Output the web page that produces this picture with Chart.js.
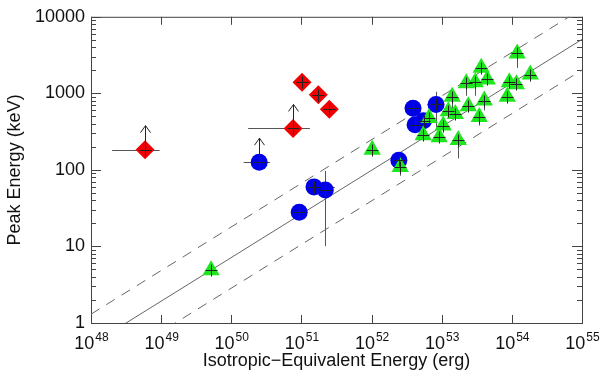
<!DOCTYPE html>
<html>
<head>
<meta charset="utf-8">
<script src="https://cdn.jsdelivr.net/npm/chart.js@4.4.1/dist/chart.umd.min.js"></script>
<style>
  html, body { margin: 0; padding: 0; background: #fff; }
  #wrap { width: 600px; height: 376px; }
</style>
</head>
<body>
<div id="wrap"><canvas id="epChart"></canvas></div>
<script>
// Axis ticks
const xTicks = [1e48, 1e49, 1e50, 1e51, 1e52, 1e53, 1e54, 1e55];
const yTicks = [1, 10, 100, 1000, 10000];
const yMinor = [2, 3, 4, 5, 6, 7, 8, 9];

// Red diamonds
const redE  = [5.9e48, 7.6e50, 1.02e51, 1.74e51, 2.5e51];
const redEp = [184, 348, 1400, 960, 620];

// Blue circles
const blueE  = [2.5e50, 1.51e51, 2.19e51, 9.3e50, 2.45e52, 3.9e52, 4.17e52, 5.5e52, 8.3e52];
const blueEp = [126, 60, 54.5, 28, 134, 638, 390, 439, 716];

// Green triangles
const greenE  = [5.15e49, 1.02e52, 2.56e52, 5.45e52, 6.6e52, 9.2e52, 1.05e53, 1.24e53,
                 1.56e53, 1.41e53, 1.72e53, 2.39e53, 2.24e53, 3.0e53, 3.43e53, 4.04e53,
                 3.66e53, 4.46e53, 8.6e53, 9.2e53, 1.16e54, 1.19e54, 1.83e54];
const greenEp = [4.9, 184, 109, 284, 478, 268, 379, 585,
                 537, 904, 245, 676, 1355, 1396, 492, 805,
                 2153, 1520, 904, 1396, 1315, 3327, 1758];

// error bars: [series, index, low, high]
const xErrors = [
  ['red', 0, 2.0e48, 9.5e48],
  ['red', 1, 1.74e50, 1.32e51],
  ['blue', 0, 1.5e50, 3.55e50],
  ['blue', 1, 1.2e51, 3.0e51]
];
const yErrors = [
  ['blue', 2, 10.1, 97],
  ['blue', 8, 356, 1050],
  ['green', 2, 84, 152],
  ['green', 9, 520, 1100],
  ['green', 10, 141, 309],
  ['green', 12, 930, 1700],
  ['green', 13, 930, 1700],
  ['green', 14, 380, 600],
  ['green', 15, 600, 1050],
  ['green', 21, 2150, 4200]
];
// lower limits on Ep (arrow up)
const lowerLimits = [['red', 0], ['red', 1], ['blue', 0]];

// relation: log Ep = slope * (log E - logE0), dashed lines at +/- width
const relSlope = 0.57;
const relLogE0 = 48.5;
const relWidth = 0.4;

const series = {
  red: { e: redE, ep: redEp },
  blue: { e: blueE, ep: blueEp },
  green: { e: greenE, ep: greenEp }
};

function relLine(offset) {
  return [xTicks[0], xTicks[xTicks.length - 1]].map(e => ({
    x: e,
    y: Math.pow(10, relSlope * (Math.log10(e) - relLogE0) + offset)
  }));
}

function pts(s) {
  return series[s].e.map((e, i) => ({ x: e, y: series[s].ep[i] }));
}

const font = 'Liberation Sans, Arial, sans-serif';

const frame = {
  id: 'frame',
  beforeDatasetsDraw(chart) {
    const { ctx, chartArea: a, scales: { x, y } } = chart;
    ctx.save();
    ctx.strokeStyle = '#444';
    ctx.lineWidth = 1;
    ctx.strokeRect(a.left + 0.5, a.top + 0.5, a.right - a.left, a.bottom - a.top);
    ctx.beginPath();
    xTicks.forEach(v => {
      const p = Math.round(x.getPixelForValue(v)) + 0.5;
      ctx.moveTo(p, a.bottom); ctx.lineTo(p, a.bottom - 8);
      ctx.moveTo(p, a.top); ctx.lineTo(p, a.top + 8);
    });
    yTicks.forEach((v, k) => {
      const p = Math.round(y.getPixelForValue(v)) + 0.5;
      ctx.moveTo(a.left, p); ctx.lineTo(a.left + 10, p);
      ctx.moveTo(a.right, p); ctx.lineTo(a.right - 10, p);
      if (k < yTicks.length - 1) {
        yMinor.forEach(m => {
          const q = Math.round(y.getPixelForValue(v * m)) + 0.5;
          ctx.moveTo(a.left, q); ctx.lineTo(a.left + 5, q);
          ctx.moveTo(a.right, q); ctx.lineTo(a.right - 5, q);
        });
      }
    });
    ctx.stroke();

    // error bars
    ctx.strokeStyle = '#555';
    ctx.beginPath();
    xErrors.forEach(([s, i, lo, hi]) => {
      const py = Math.round(y.getPixelForValue(series[s].ep[i])) + 0.5;
      ctx.moveTo(x.getPixelForValue(lo), py);
      ctx.lineTo(x.getPixelForValue(hi), py);
    });
    yErrors.forEach(([s, i, lo, hi]) => {
      const pxl = Math.round(x.getPixelForValue(series[s].e[i])) + 0.5;
      ctx.moveTo(pxl, y.getPixelForValue(lo));
      ctx.lineTo(pxl, y.getPixelForValue(hi));
    });
    ctx.stroke();

    // x tick labels: 10 with raised exponent
    ctx.fillStyle = '#111';
    ctx.textBaseline = 'alphabetic';
    ctx.textAlign = 'left';
    xTicks.forEach(v => {
      const base = '10';
      const exp = String(Math.round(Math.log10(v)));
      ctx.font = '18px ' + font;
      const wb = ctx.measureText(base).width;
      ctx.font = '12px ' + font;
      const we = ctx.measureText(exp).width;
      const left = x.getPixelForValue(v) - (wb + we) / 2;
      ctx.font = '18px ' + font;
      ctx.fillText(base, left, a.bottom + 26);
      ctx.font = '12px ' + font;
      ctx.fillText(exp, left + wb + 1, a.bottom + 18);
    });
    ctx.restore();
  },
  afterDatasetsDraw(chart) {
    const { ctx, scales: { x, y } } = chart;
    ctx.save();
    ctx.strokeStyle = '#222';
    ctx.lineWidth = 1;
    ctx.beginPath();
    // crosses on every symbol
    Object.keys(series).forEach(s => {
      series[s].e.forEach((e, i) => {
        const px = Math.round(x.getPixelForValue(e)) + 0.5;
        const py = Math.round(y.getPixelForValue(series[s].ep[i])) + 0.5;
        ctx.moveTo(px - 6, py); ctx.lineTo(px + 6, py);
        ctx.moveTo(px, py - 6); ctx.lineTo(px, py + 6);
      });
    });
    // lower-limit arrows
    lowerLimits.forEach(([s, i]) => {
      const px = Math.round(x.getPixelForValue(series[s].e[i])) + 0.5;
      const py = y.getPixelForValue(series[s].ep[i]);
      ctx.moveTo(px, py - 6); ctx.lineTo(px, py - 24);
      ctx.moveTo(px - 5, py - 17); ctx.lineTo(px, py - 24); ctx.lineTo(px + 5, py - 17);
    });
    ctx.stroke();
    ctx.restore();
  }
};

new Chart(document.getElementById('epChart'), {
  type: 'scatter',
  data: {
    datasets: [
      { label: 'green', data: pts('green'), pointStyle: 'triangle', pointRadius: 10,
        backgroundColor: '#1ee61e', borderWidth: 0, order: 0 },
      { label: 'blue', data: pts('blue'), pointStyle: 'circle', pointRadius: 8.5,
        backgroundColor: '#0000e6', borderWidth: 0, order: 1 },
      { label: 'red', data: pts('red'), pointStyle: 'rectRot', pointRadius: 9.5,
        backgroundColor: '#f00000', borderWidth: 0, order: 2 },
      { type: 'line', data: relLine(0), borderColor: '#666', borderWidth: 1,
        pointRadius: 0, fill: false, order: 3 },
      { type: 'line', data: relLine(relWidth), borderColor: '#666', borderWidth: 1,
        borderDash: [10, 8], pointRadius: 0, fill: false, order: 3 },
      { type: 'line', data: relLine(-relWidth), borderColor: '#666', borderWidth: 1,
        borderDash: [10, 8], pointRadius: 0, fill: false, order: 3 }
    ]
  },
  options: {
    responsive: true,
    maintainAspectRatio: false,
    animation: false,
    layout: { padding: { top: 5, right: 18, left: 0, bottom: 0 } },
    plugins: {
      legend: { display: false },
      tooltip: { enabled: false }
    },
    scales: {
      x: {
        type: 'logarithmic',
        min: xTicks[0],
        max: xTicks[xTicks.length - 1],
        grid: { display: false, drawTicks: false },
        border: { display: false },
        afterBuildTicks: s => { s.ticks = xTicks.map(v => ({ value: v })); },
        afterFit: s => { s.height = 53; },
        ticks: { display: false },
        title: {
          display: true,
          text: 'Isotropic−Equivalent Energy (erg)',
          color: '#111',
          font: { family: font, size: 18 },
          padding: { top: 0, bottom: 4 }
        }
      },
      y: {
        type: 'logarithmic',
        min: yTicks[0],
        max: yTicks[yTicks.length - 1],
        grid: { display: false, drawTicks: false },
        border: { display: false },
        afterBuildTicks: s => { s.ticks = yTicks.map(v => ({ value: v })); },
        afterFit: s => { s.width = 91; },
        ticks: {
          autoSkip: false,
          padding: 6,
          color: '#111',
          font: { family: font, size: 18 },
          callback: v => String(Math.round(v))
        },
        title: {
          display: true,
          text: 'Peak Energy (keV)',
          color: '#111',
          font: { family: font, size: 18 },
          padding: { top: 4, bottom: 0 }
        }
      }
    }
  },
  plugins: [frame]
});
</script>
</body>
</html>
